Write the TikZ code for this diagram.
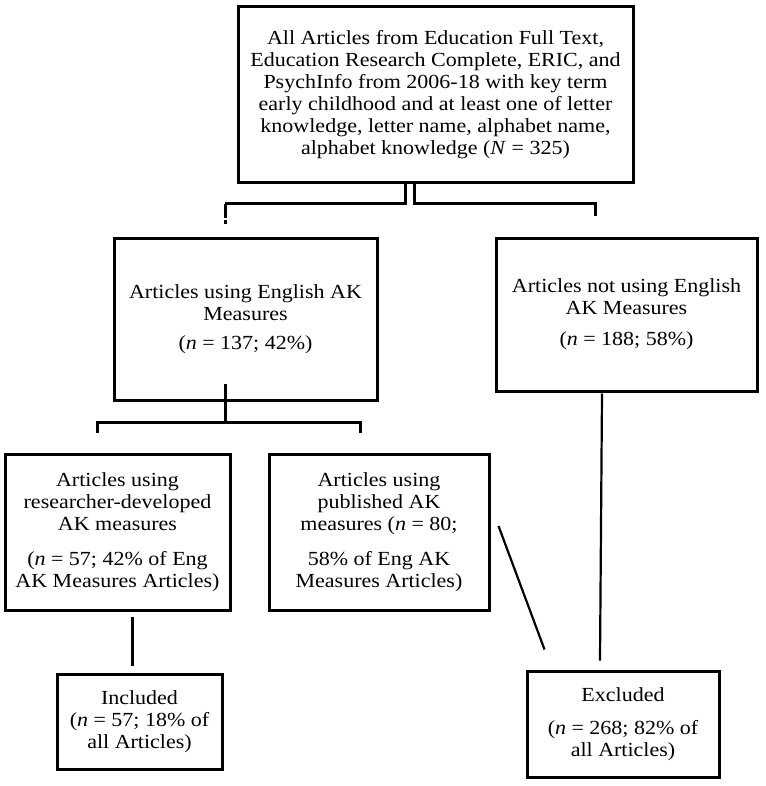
\documentclass[tikz,border=0pt]{standalone}
\usepackage{fontspec}
\setmainfont[FakeStretch=1.1]{Liberation Serif}
\usetikzlibrary{positioning}

\tikzset{
  box/.style={draw, line width=3pt, align=center, inner sep=0pt,
    font=\fontsize{20}{22}\selectfont},
  conn/.style={line width=3pt}
}

\begin{document}
\begin{tikzpicture}[x=1pt,y=-1pt]
\useasboundingbox (0,0) rectangle (765,786);

% boxes
\node[box, minimum width=395pt, minimum height=176pt] (all) at (435.5,95)
  {All Articles from Education Full Text,\\Education Research Complete, ERIC, and\\PsychInfo from 2006-18 with key term\\early childhood and at least one of letter\\knowledge, letter name, alphabet name,\\alphabet knowledge (\textit{N} = 325)};
\node[box, minimum width=263pt, minimum height=162pt] (eng) at (245.5,319)
  {Articles using English AK\\Measures\\[7pt](\textit{n} = 137; 42\%)};
\node[box, minimum width=261pt, minimum height=153pt] (noteng) at (626.5,314.5)
  {Articles not using English\\AK Measures\\[9pt](\textit{n} = 188; 58\%)};
\node[box, minimum width=225pt, minimum height=156pt] (resdev) at (117.5,532)
  {Articles using\\researcher-developed\\AK measures\\[13pt](\textit{n} = 57; 42\% of Eng\\AK Measures Articles)};
\node[box, minimum width=220pt, minimum height=156pt] (pub) at (379,532)
  {Articles using\\published AK\\measures (\textit{n} = 80;\\[13pt]58\% of Eng AK\\Measures Articles)};
\node[box, minimum width=165pt, minimum height=95pt] (incl) at (139.5,721.5)
  {Included\\(\textit{n} = 57; 18\% of\\all Articles)};
\node[box, minimum width=192pt, minimum height=106pt] (excl) at (623,724)
  {Excluded\\[11pt](\textit{n} = 268; 82\% of\\all Articles)};

% free ends
\coordinate (forkl) at (225,204);
\coordinate (forkr) at (595,204);
\coordinate (stubl) at (225,224);
\coordinate (stubr) at (595,216);
\coordinate (split) at (225,422);
\coordinate (splitl) at (97,433);
\coordinate (splitr) at (360,433);

% connectors
\draw[conn] (all.south -| 405,0) |- (forkl);
\draw[conn, dash pattern=on 14pt off 2pt on 10pt] (forkl) -- (stubl);
\draw[conn] (all.south -| 414,0) |- (forkr) -- (stubr);
\draw[conn] ([yshift=18pt]eng.south -| split) -- (split);
\draw[conn] (splitl) |- (split) -| (splitr);
\draw[conn] ([yshift=-5pt]resdev.south -| 132,0) -- ([yshift=7pt]incl.north -| 132,0);
\draw[line width=2.2pt] ([xshift=8pt]pub.east |- 0,526) -- ([shift={(19pt,20pt)}]excl.north west);
\draw[line width=2.2pt] ([yshift=-1pt]noteng.south -| 602,0) -- ([yshift=9pt]excl.north -| 600,0);
\end{tikzpicture}
\end{document}
